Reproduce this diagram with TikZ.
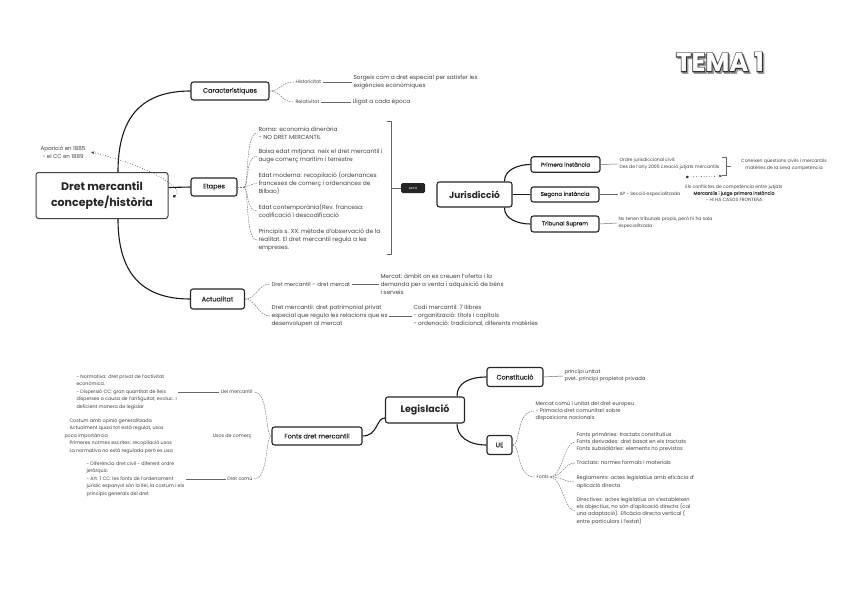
\documentclass[tikz,border=0pt]{standalone}
\usepackage{fontspec}
\setmainfont{Poppins}
\newfontfamily\pmed{Poppins}[FakeBold=0.5]
\newfontfamily\temaout{Poppins}[FakeBold=6]
\usetikzlibrary{arrows.meta,calc}
\begin{document}
\begin{tikzpicture}[x=1pt,y=-1pt,
  box/.style={draw=black!85, line width=1.1pt, rounded corners=2.5pt, fill=white, text=black!85, inner sep=0pt, align=center, font=\pmed\fontsize{6.5}{7}\selectfont},
  bigbox/.style={box, font=\bfseries\fontsize{9.5}{11}\selectfont},
  smallbox/.style={box, font=\pmed\fontsize{5.6}{6}\selectfont},
  txt/.style={text=black!75, inner sep=0pt, outer sep=1.5pt, align=left, font=\fontsize{5.8}{8}\selectfont},
  ltxt/.style={txt, font=\fontsize{4.8}{7.5}\selectfont},
  etxt/.style={txt, font=\fontsize{5.9}{8}\selectfont},
  mtxt/.style={txt, font=\fontsize{5.2}{7.3}\selectfont},
  stxt/.style={txt, font=\fontsize{4.6}{6.5}\selectfont},
  link/.style={draw=black!90, line width=1.1pt},
  sub/.style={draw=black!55, line width=0.45pt, dash pattern=on 1.6pt off 0.9pt},
  leaf/.style={draw=black!60, line width=0.45pt},
  temafont/.style={font=\bfseries\fontsize{26}{26}\selectfont, inner sep=0pt},
  temaoutfont/.style={font=\temaout\bfseries\fontsize{26}{26}\selectfont, inner sep=0pt},
]
\useasboundingbox (0,0) rectangle (848,599);
\fill[white] (0,0) rectangle (848,599);

% ---------- TEMA 1 ----------
\node[temaoutfont, text=black!40] (temas) at (721.6,63.6) {TEMA 1};
\node[temaoutfont, text=black!80] (temao) at (720,62) {TEMA 1};
\node[temafont, text=white] (temaw) at (720,62) {TEMA 1};

% ---------- main node and branches ----------
\node[box, line width=1pt, draw=black!75, minimum width=132pt, minimum height=46pt, font=\bfseries\fontsize{11}{16}\selectfont] (main) at (102,195.5) {Dret mercantil\\concepte/història};
\node[box, minimum width=78pt, minimum height=18pt] (car) at (230,91) {Característiques};
\node[box, minimum width=46pt, minimum height=18pt] (etapes) at (214,187) {Etapes};
\node[box, minimum width=54pt, minimum height=20pt] (act) at (217.5,299) {Actualitat};

\draw[link] (car.west) .. controls (135,91) and (118,125) .. ([xshift=16pt]main.north);
\draw[link] ([xshift=16pt]main.south) .. controls (118,265) and (135,299) .. (act.west);
\draw[link] ([yshift=8pt]main.east) -- (etapes.west);

% Aparició
\node[txt, align=center, font=\fontsize{5.5}{8}\selectfont] (apar) at (63,152) {Aparició en 1885\\- el CC en 1889};
\coordinate (dotA) at (173,197);
\draw[black!80, line width=0.6pt, dotted, {Circle[length=3pt]}-{Stealth[length=3.5pt]}] (dotA) .. controls (186,189) and (150,166) .. ([xshift=4pt]apar.east);

% ---------- Característiques ----------
\node[ltxt, anchor=west] (hist) at (294,82) {Historicitat};
\node[txt, anchor=west] (hist2) at (352,82) {Sorgeix com a dret especial per satisfer les\\exigències econòmiques};
\node[ltxt, anchor=west] (rel) at (294,102) {Relativitat};
\node[txt, anchor=west] (rel2) at (351,102) {Lligat a cada època};
\draw[sub] (car.east) .. controls (282,91) and (280,82) .. (hist.west);
\draw[sub] (car.east) .. controls (282,91) and (280,102) .. (rel.west);
\draw[leaf] (hist.east) -- (hist2.west);
\draw[leaf] (rel.east) -- (rel2.west);

% ---------- Etapes ----------
\node[etxt, anchor=west] (e1) at (257,133) {Roma: economia dinerària\\- NO DRET MERCANTIL};
\node[etxt, anchor=west] (e2) at (257,156) {Baixa edat mitjana: neix el dret mercantil i\\auge comerç marítim i terrestre};
\node[etxt, anchor=west] (e3) at (257,183) {Edat moderna: recopilació (ordenances\\franceses de comerç i ordenances de\\Bilbao)};
\node[etxt, anchor=west] (e4) at (257,211) {Edat contemporània(Rev. francesa:\\codificació i descodificació};
\node[etxt, anchor=west] (e5) at (257,240) {Principis s. XX: mètode d'observació de la\\realitat. El dret mercantil regula a les\\empreses.};
\coordinate (eb) at (244,187);
\draw[sub] (etapes.east) -- (eb);
\foreach \e in {e1,e2,e4,e5}{
  \draw[sub] (eb) .. controls (249,187) and (245,0 |- \e.west) .. (\e.west);
}
\draw[sub] (eb) -- (e3.west);

\draw[leaf, line width=0.6pt] (387,121) -- (391,121) -- (391,254) -- (387,254);
\node[fill=black!85, rounded corners=1.5pt, minimum width=24pt, minimum height=10pt, inner sep=0pt, text=white, font=\fontsize{3.2}{4}\selectfont] (extra) at (413,188) {extra};
\draw[leaf, line width=0.6pt] (391,188) -- (extra.west);

% ---------- Jurisdicció ----------
\node[bigbox, minimum width=75pt, minimum height=25pt, font=\bfseries\fontsize{9}{10}\selectfont] (jur) at (474.5,194.5) {Jurisdicció};
\node[smallbox, minimum width=69pt, minimum height=15.5pt] (prim) at (565.5,164.5) {Primera instància};
\node[smallbox, minimum width=68pt, minimum height=15pt] (seg) at (565,194.5) {Segona instància};
\node[smallbox, minimum width=68pt, minimum height=16pt] (trib) at (565,224) {Tribunal Suprem};
\draw[link] ([xshift=-8pt]jur.north east) .. controls (504,170) and (518,164.5) .. (prim.west);
\draw[link] (jur.east) -- (seg.west);
\draw[link] ([xshift=-8pt]jur.south east) .. controls (504,219) and (518,224) .. (trib.west);

\node[stxt, anchor=west] (p1) at (618,164) {Ordre jurisdiccional civil:\\Des de l'any 2005 creació jutjats mercantils};
\draw[leaf] (prim.east) -- (p1.west);
\draw[leaf, line width=0.6pt] (722,157) -- (726,157) -- (726,175) -- (722,175);
\draw[leaf, line width=0.6pt] (726,166) -- (731,166);
\node[stxt, align=center] (r1) at (784,165) {Coneixen qüestions civils i mercantils\\matèries de la seva competència};
\coordinate (da) at (686,177);
\coordinate (db) at (722,176);
\draw[black!85, line width=0.6pt, dotted, {Circle[length=2.5pt]}-{Stealth[length=3pt]}] (da) -- (db);
\node[stxt, align=center] (cf) at (734,193) {Els conflictes de competència entre jutjats\\{\pmed Mercantils i jutge primera instància}\\- HI HA CASOS FRONTERA};
\node[stxt, anchor=west] (s1) at (618,194.5) {AP - Secció especialitzada};
\draw[leaf] (seg.east) -- (s1.west);
\node[stxt, anchor=west] (t1) at (617,223) {No tenen tribunals propis, però hi ha sala\\especialitzada};
\draw[leaf] (trib.east) -- (t1.west);

% ---------- Actualitat ----------
\node[txt, anchor=west, font=\fontsize{5.5}{8}\selectfont] (a1) at (270,284) {Dret mercantil – dret mercat};
\node[txt, anchor=west] (a2) at (379,284) {Mercat: àmbit on es creuen l'oferta i la\\demanda per a venta i adquisició de béns\\i serveis};
\node[txt, anchor=west] (a3) at (270,316) {Dret mercantil: dret patrimonial privat\\especial que regula les relacions que es\\desenvolupen al mercat};
\node[txt, anchor=west] (a4) at (412,316) {Codi mercantil: 7 llibres\\- organització: títols i capítols\\- ordenació: tradicional, diferents matèries};
\draw[sub] (act.east) .. controls (256,299) and (258,284) .. (a1.west);
\draw[sub] (act.east) .. controls (256,299) and (258,316) .. (a3.west);
\draw[leaf] (a1.east) -- (a2.west);
\draw[leaf] (a3.east) -- (a4.west);

% ---------- Legislació ----------
\node[box, minimum width=90pt, minimum height=18pt] (fonts) at (317,436) {Fonts dret mercantil};
\node[bigbox, minimum width=79pt, minimum height=26pt] (leg) at (425,410) {Legislació};
\node[box, minimum width=56pt, minimum height=19pt] (const) at (515,377) {Constitució};
\node[box, minimum width=25pt, minimum height=19pt] (ue) at (499.5,445) {UE};
\draw[link] (fonts.east) .. controls (378,436) and (376,418) .. ([yshift=-8pt]leg.west);
\draw[link] ([xshift=-8pt]leg.north east) .. controls (456.5,384) and (468,377) .. (const.west);
\draw[link] ([xshift=-8pt]leg.south east) .. controls (456.5,436) and (468,445) .. (ue.west);

\node[mtxt, anchor=west] (c1) at (563,376) {principi unitat\\pvet. principi propietat privada};
\draw[leaf] (const.east) -- (c1.west);

\node[mtxt, anchor=west] (m1) at (534,411) {Mercat comú i unitat del dret europeu\\- Primacia dret comunitari sobre\\disposicions nacionals};
\node[ltxt, anchor=west, font=\fontsize{4.6}{7}\selectfont] (fu) at (535,477) {Fonts};
\draw[sub] (ue.east) .. controls (521,445) and (516,411) .. (m1.west);
\draw[sub] (ue.east) .. controls (521,445) and (516,477) .. (fu.west);

\node[mtxt, anchor=west] (fp) at (575,442) {Fonts primàries: tractats constitutius\\Fonts derivades: dret basat en els tractats\\Fonts subsidiàries: elements no previstos};
\node[mtxt, anchor=west] (tr) at (575,463) {Tractats: normes formals i materials};
\node[mtxt, anchor=west] (rg) at (575,482) {Reglaments: actes legislatius amb eficàcia d'\\aplicació directa};
\node[mtxt, anchor=west] (dr) at (575,511) {Directives: actes legislatius on s'estableixen\\els objectius, no són d'aplicació directa (cal\\una adaptació). Eficàcia directa vertical (\\entre particulars i l'estat)};
\foreach \k in {fp,tr,rg,dr}{
  \draw[sub] (fu.east) .. controls (562,477) and (564,0 |- \k.west) .. (\k.west);
}

% ---------- Fonts dret mercantil (left) ----------
\node[ltxt, anchor=east] (llei) at (254,392) {Llei mercantil};
\node[ltxt, anchor=east] (usos) at (253,436) {Usos de comerç};
\node[ltxt, anchor=east] (comu) at (254,479) {Dret comú};
\draw[sub] (fonts.west) .. controls (265,436) and (269,392) .. (llei.east);
\draw[sub] (fonts.west) .. controls (265,436) and (269,479) .. (comu.east);

\node[ltxt, anchor=west] (b1) at (75,392) {- Normativa: dret privat de l'activitat\\econòmica.\\- Dispersió CC: gran quantitat de lleis\\disperses a causa de l'antiguitat, evoluc. i\\deficient manera de legislar};
\node[ltxt, anchor=west] (b2) at (68,436) {Costum amb opinió generalitzada\\Actualment quasi tot està regulat, usos\\\hspace*{-5pt}poca importància\\Primeres normes escrites: recopilació usos\\La normativa no està regulada però es usa};
\node[ltxt, anchor=west] (b3) at (85,479) {- Diferència dret civil - diferent ordre\\jeràrquic\\- Art. 1 CC: les fonts de l'ordenament\\jurídic espanyol són la llei, la costum i els\\principis generals del dret};
\draw[leaf] (llei.west) -- (b1.east);
\draw[leaf] (comu.west) -- (b3.east);
\end{tikzpicture}
\end{document}
